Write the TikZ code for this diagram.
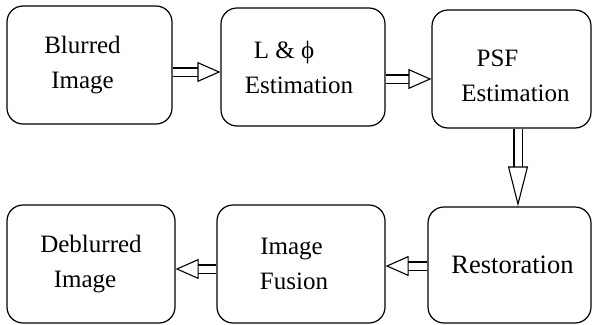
\documentclass[tikz,border=0pt]{standalone}
\usepackage{fontspec}
\setmainfont{Liberation Serif}
\usetikzlibrary{arrows.meta}

\begin{document}
\begin{tikzpicture}[x=1pt,y=1pt,
    stage/.style={draw, line width=1.2pt, rounded corners=16pt, inner sep=0pt,
        minimum width=165pt, minimum height=118pt, align=center,
        font=\fontsize{25}{35}\selectfont},
    flow/.style={double, double distance=7pt, line width=1.1pt,
        -{Triangle[open, length=#1, width=20pt, line width=1.1pt]}},
    flow/.default=23pt
]
    \useasboundingbox (0,0) rectangle (593,-324);
    % top row
    \node[stage] (blurred) at (89.5,-65) {Blurred\hspace*{14pt}\\Image\hspace*{14pt}};
    \node[stage, minimum width=164pt] (lphi) at (303,-67) {L \& ϕ\hspace*{38pt}\\Estimation\hspace*{8pt}};
    \node[stage, minimum width=159pt] (psf) at (511.5,-69) {\rule{0pt}{30pt}PSF\hspace*{28pt}\\\hspace*{8pt}Estimation};
    % bottom row
    \node[stage, minimum width=168pt] (deblurred) at (91,-264) {Deblurred\\Image\hspace*{12pt}};
    \node[stage, minimum width=168pt] (fusion) at (301,-264) {Image\hspace*{19pt}\\Fusion\hspace*{14pt}};
    \node[stage, minimum width=163pt, minimum height=116pt,
        font=\fontsize{26.5}{35}\selectfont] (restore) at (509.5,-265) {\hspace*{6pt}Restoration};
    % connectors
    \draw[flow] ([yshift=-7pt]blurred.east) -- ([yshift=-5pt]lphi.west);
    \draw[flow] ([yshift=-12pt]lphi.east) -- ([yshift=-10pt]psf.west);
    \draw[flow=40pt] ([xshift=6.5pt]psf.south) -- ([xshift=8.5pt]restore.north);
    \draw[flow] ([yshift=-1pt]restore.west) -- ([yshift=-2pt]fusion.east);
    \draw[flow] ([yshift=-5pt]fusion.west) -- ([yshift=-5pt]deblurred.east);
\end{tikzpicture}
\end{document}
